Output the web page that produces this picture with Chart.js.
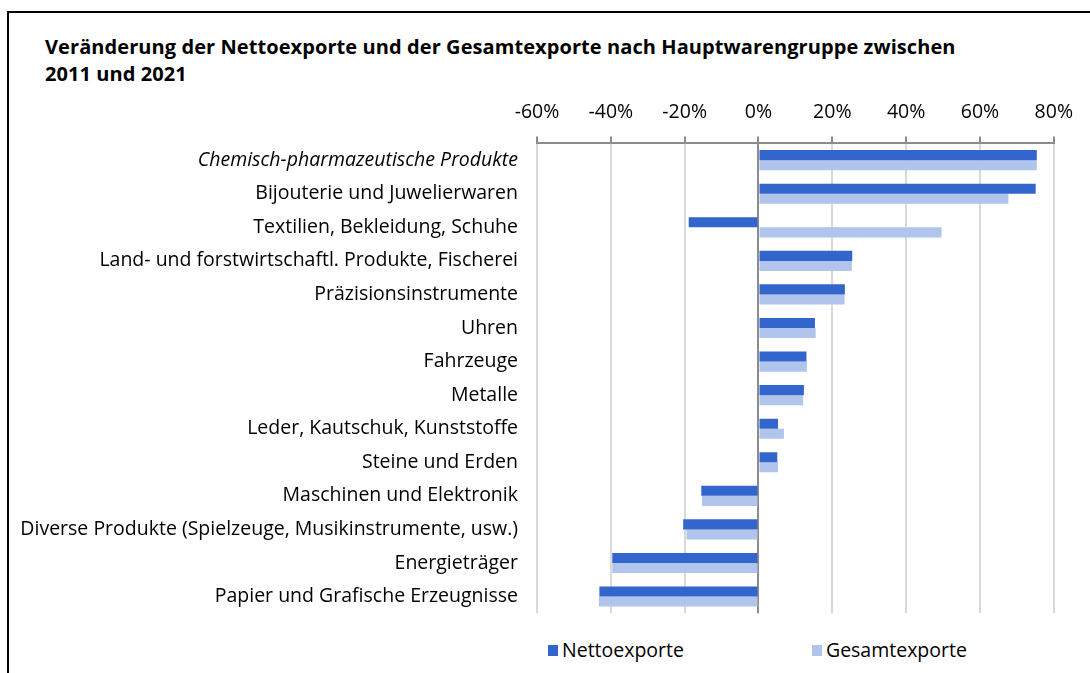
<!DOCTYPE html>
<html lang="de">
<head>
  <meta charset="UTF-8">
  <title>Nettoexporte und Gesamtexporte</title>
  <style>
    html, body { margin: 0; padding: 0; width: 1090px; height: 673px; overflow: hidden; background: #fff; }
    body { position: relative; font-family: "Open Sans", "Noto Sans", sans-serif; color: #000; }
    .frame { position: absolute; left: 7px; top: 11px; width: 1200px; height: 800px; border: 2px solid #000; box-sizing: border-box; }
    h1 { position: absolute; left: 45px; top: 33px; margin: 0; font-size: 20px; font-weight: 700; line-height: 27px; letter-spacing: 0.08px; }
    #wrap { position: absolute; left: 10px; top: 89px; width: 1075px; height: 547px; }
    .legend { position: absolute; top: 638px; left: 548px; display: flex; font-size: 19.5px; line-height: 24px; }
    .legend span { display: flex; align-items: center; }
    .legend i { display: inline-block; width: 10px; height: 11px; margin-right: 4px; }
  </style>
</head>
<body>
  <div class="frame"></div>
  <h1>Veränderung der Nettoexporte und der Gesamtexporte nach Hauptwarengruppe zwischen<br>2011 und 2021</h1>
  <div id="wrap"><canvas id="chart"></canvas></div>
  <div class="legend">
    <span><i style="background:#3366cc"></i>Nettoexporte</span>
    <span style="margin-left:128px"><i style="background:#b0c4ec"></i>Gesamtexporte</span>
  </div>
  <script src="https://cdn.jsdelivr.net/npm/chart.js"></script>
  <script>
    const categories = [
      "Chemisch-pharmazeutische Produkte",
      "Bijouterie und Juwelierwaren",
      "Textilien, Bekleidung, Schuhe",
      "Land- und forstwirtschaftl. Produkte, Fischerei",
      "Präzisionsinstrumente",
      "Uhren",
      "Fahrzeuge",
      "Metalle",
      "Leder, Kautschuk, Kunststoffe",
      "Steine und Erden",
      "Maschinen und Elektronik",
      "Diverse Produkte (Spielzeuge, Musikinstrumente, usw.)",
      "Energieträger",
      "Papier und Grafische Erzeugnisse"
    ];
    const nettoexporte = [75.4, 75.1, -18.9, 25.4, 23.4, 15.3, 13.0, 12.3, 5.3, 5.1, -15.5, -20.4, -39.6, -43.1];
    const gesamtexporte = [75.4, 67.7, 49.6, 25.3, 23.3, 15.5, 13.1, 12.1, 6.9, 5.3, -15.3, -19.5, -39.6, -43.2];
    const xTicks = [-60, -40, -20, 0, 20, 40, 60, 80];

    Chart.defaults.font.family = '"Open Sans", "Noto Sans", sans-serif';
    Chart.defaults.color = "#000";

    new Chart(document.getElementById("chart"), {
      type: "bar",
      data: {
        labels: categories,
        datasets: [
          { label: "Nettoexporte", data: nettoexporte, backgroundColor: "#3366cc" },
          { label: "Gesamtexporte", data: gesamtexporte, backgroundColor: "#b0c4ec" }
        ]
      },
      options: {
        indexAxis: "y",
        responsive: true,
        maintainAspectRatio: false,
        animation: false,
        categoryPercentage: 0.6,
        barPercentage: 1.0,
        layout: { padding: { right: 28, bottom: 10 } },
        plugins: { legend: { display: false }, tooltip: { enabled: false } },
        scales: {
          x: {
            position: "top",
            min: -60,
            max: 80,
            afterBuildTicks: (scale) => { scale.ticks = xTicks.map((v) => ({ value: v })); },
            ticks: { callback: (v) => v + "%", font: { size: 19.5 }, padding: 12, maxRotation: 0 },
            grid: {
              color: (ctx) => (ctx.tick && ctx.tick.value === 0 ? "#8c8c8c" : "#d9d9d9"),
              lineWidth: 2,
              tickColor: "#8c8c8c",
              tickLength: 7
            },
            border: { color: "#8c8c8c", width: 2 }
          },
          y: {
            afterFit: (scale) => { scale.width = 527; },
            grid: { display: false },
            border: { display: false },
            ticks: {
              padding: 11,
              font: (ctx) => ({ size: 19.5, style: ctx.index === 0 ? "italic" : "normal" })
            }
          }
        }
      }
    });
  </script>
</body>
</html>
